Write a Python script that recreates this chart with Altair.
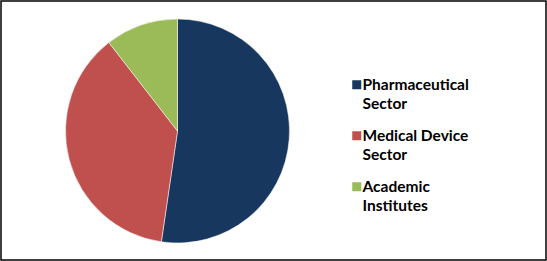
import altair as alt
import pandas as pd

categories = ["Pharmaceutical Sector", "Medical Device Sector", "Academic Institutes"]
shares = [52.3, 37.2, 10.5]
colors = ["#17375E", "#C0504D", "#9BBB59"]

df = pd.DataFrame({"category": categories, "share": shares, "order": [0, 1, 2]})

label_expr = ("[substring(datum.label, 0, lastindexof(datum.label, ' ')), "
              "substring(datum.label, lastindexof(datum.label, ' ') + 1)]")

chart = alt.Chart(df).mark_arc(outerRadius=112, stroke="white", strokeWidth=0.5).encode(
    theta=alt.Theta("share:Q", stack=True),
    order=alt.Order("order:Q"),
    x=alt.value(176.5),
    y=alt.value(130),
    color=alt.Color(
        "category:N",
        scale=alt.Scale(domain=categories, range=colors),
        sort=categories,
        legend=alt.Legend(
            title=None,
            orient="none",
            legendX=348,
            legendY=76,
            padding=0,
            symbolType="square",
            symbolSize=81,
            symbolStrokeWidth=0,
            symbolOffset=0,
            labelOffset=0,
            labelFont="Lato",
            labelFontSize=15.5,
            labelFontWeight="bold",
            labelColor="#000000",
            labelBaseline="alphabetic",
            labelLimit=300,
            labelExpr=label_expr,
            rowPadding=15,
        ),
    ),
).properties(
    width=545,
    height=259,
    padding=1,
    background="white",
    autosize=alt.AutoSizeParams(type="none"),
).configure(
    view={"stroke": "#000000", "strokeWidth": 1.5},
    style={"guide-label": {"lineHeight": 19, "dy": 5, "dx": -2}},
)

chart.save("out.html", embed_options={"renderer": "svg", "actions": False})
